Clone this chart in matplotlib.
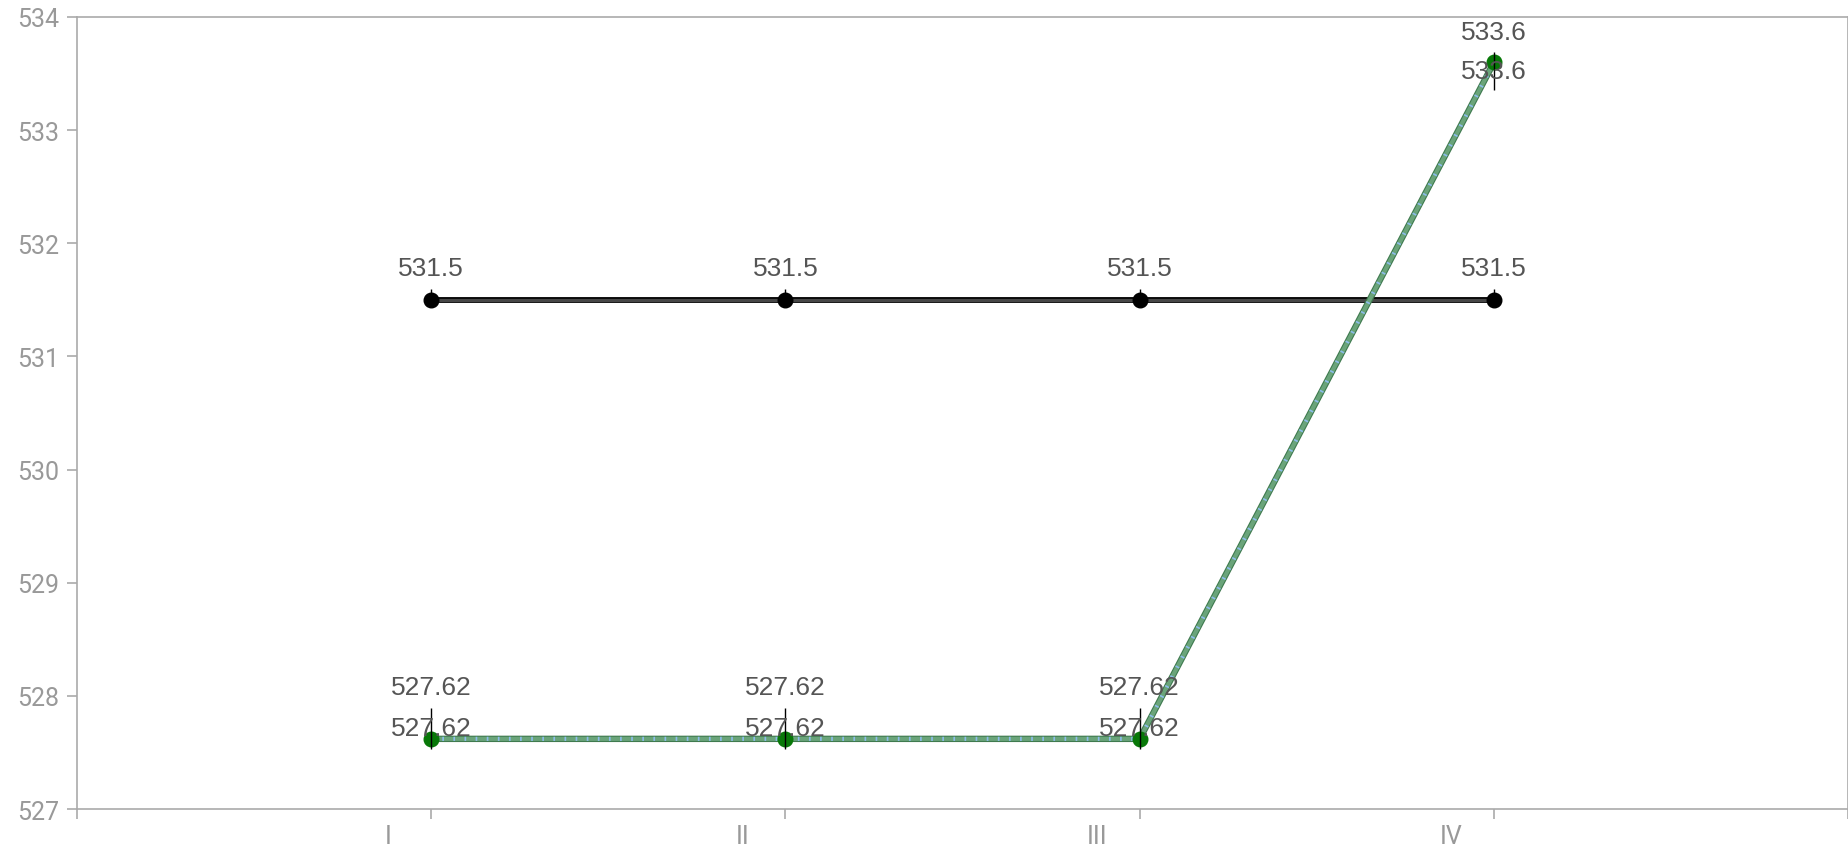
import matplotlib.pyplot as plt
import matplotlib.transforms as mtransforms
import numpy as np

plt.rcParams['font.family'] = ['Roboto', 'DejaVu Sans']
plt.rcParams['lines.scale_dashes'] = False

categories = ['I', 'II', 'III', 'IV']
x_pos = [1, 2, 3, 4]
flat_values = [531.5, 531.5, 531.5, 531.5]
green_values = [527.62, 527.62, 527.62, 533.6]
green_err_low = [0.09, 0.09, 0.09, 0.25]
green_err_high = [0.27, 0.27, 0.27, 0.09]
flat_err_high = [0.1, 0.1, 0.1, 0.1]

# label offsets (points) for the doubled green labels
upper_dy = [37, 37, 37, 22]
lower_dy = [8, 8, 8, -6]

fig = plt.figure(figsize=(18.49, 8.54), dpi=100)
ax = fig.add_axes([0.0416, 0.0515, 0.958, 0.9275])

# black reference line
ax.errorbar(x_pos, flat_values, yerr=[[0] * 4, flat_err_high], fmt='none',
            ecolor='black', elinewidth=1, zorder=3)
ax.plot(x_pos, flat_values, color='black', lw=4.2, zorder=3)
ax.plot(x_pos, flat_values, color='#474747', lw=2.4, zorder=3)
ax.plot(x_pos, flat_values, 'o', color='black', ms=10.5, zorder=5)

# green series
ax.plot(x_pos, green_values, color='#3f7a4f', lw=4.6, zorder=4)
ax.plot(x_pos, green_values, color='#6aa47a', lw=3, zorder=4)
ax.plot(x_pos, green_values, color='#8cbcec', lw=3, dashes=(1.2, 6.8), zorder=4)
ax.errorbar(x_pos, green_values, yerr=[green_err_low, green_err_high], fmt='none',
            ecolor='black', elinewidth=1, zorder=6)
ax.plot(x_pos, green_values, 'o', color='#087808', ms=10.5, zorder=5)

lab_font = ['Liberation Sans', 'DejaVu Sans']
for x, v in zip(x_pos, flat_values):
    ax.annotate(f'{v:g}', (x, v), xytext=(0, 23), textcoords='offset points',
                ha='center', va='center', fontsize=19, color='#555555',
                family=lab_font, zorder=7)
for x, v, du, dl in zip(x_pos, green_values, upper_dy, lower_dy):
    for dy in (du, dl):
        ax.annotate(f'{v:g}', (x, v), xytext=(0, dy), textcoords='offset points',
                    ha='center', va='center', fontsize=19, color='#555555',
                    family=lab_font, zorder=7)

ax.set_xlim(0, 5)
ax.set_ylim(527, 534)
ax.set_xticks([0, 1, 2, 3, 4, 5])
ax.set_xticklabels([''] + categories + [''])
ax.set_yticks(np.arange(527, 535, 1))

for s in ax.spines.values():
    s.set_color('#aaaaaa')
    s.set_linewidth(1.2)
ax.tick_params(axis='both', colors='#aaaaaa', length=7, width=1.2,
               labelcolor='#999999', labelsize=18, pad=6)
ax.tick_params(axis='x', pad=4)

shift = mtransforms.ScaledTranslation(-0.43, 0, fig.dpi_scale_trans)
for lab in ax.get_xticklabels():
    lab.set_transform(lab.get_transform() + shift)

fig.savefig('out.png', dpi=100)
